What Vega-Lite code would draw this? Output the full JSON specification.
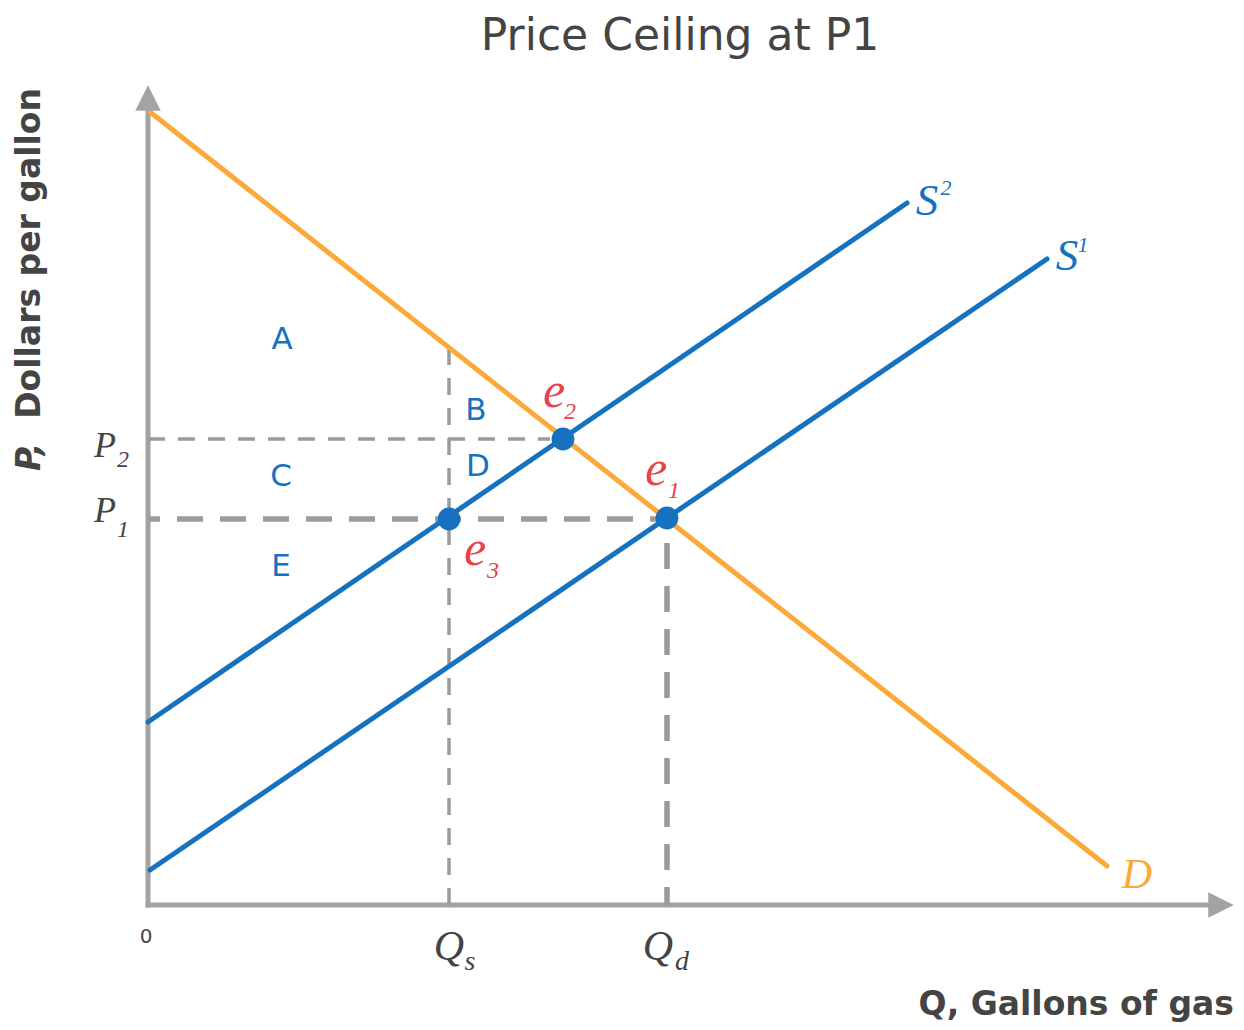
{
  "$schema": "https://vega.github.io/schema/vega-lite/v6.json",
  "width": 1086,
  "height": 817,
  "autosize": {"type": "none"},
  "padding": {"left": 148, "top": 88, "right": 10, "bottom": 125},
  "background": "white",
  "config": {"view": {"stroke": null}},
  "datasets": {
    "segs": [
      {"s": "axis", "x": 0, "y": -2.5, "x2": 0, "y2": 795},
      {"s": "axis", "x": -2.5, "y": 0, "x2": 1065, "y2": 0},
      {"s": "thin", "x": 0, "y": 466, "x2": 402, "y2": 466},
      {"s": "thin", "x": 301, "y": 0, "x2": 301, "y2": 557},
      {"s": "thickh", "x": 0, "y": 386, "x2": 519, "y2": 386},
      {"s": "thickv", "x": 519, "y": 0, "x2": 519, "y2": 386},
      {"s": "D", "x": 2, "y": 793, "x2": 959, "y2": 39},
      {"s": "S", "x": 0, "y": 183, "x2": 759, "y2": 702},
      {"s": "S", "x": 2, "y": 35, "x2": 899, "y2": 646}
    ],
    "arrows": [
      {"a": "up", "x": 0, "y": 807},
      {"a": "right", "x": 1073, "y": 0}
    ],
    "pts": [
      {"name": "e2", "x": 415, "y": 466},
      {"name": "e1", "x": 519, "y": 387},
      {"name": "e3", "x": 301, "y": 386}
    ],
    "labels": [
      {"g": "title", "t": "Price Ceiling at P1", "x": 532, "y": 855},
      {"g": "ytp", "t": "P,", "x": -108, "y": 434},
      {"g": "yt", "t": "Dollars per gallon", "x": -108, "y": 817},
      {"g": "xt", "t": "Q, Gallons of gas", "x": 1086, "y": -110},
      {"g": "zero", "t": "0", "x": -2, "y": -32},
      {"g": "region", "t": "A", "x": 134, "y": 565},
      {"g": "region", "t": "B", "x": 328, "y": 494},
      {"g": "region", "t": "C", "x": 133, "y": 428},
      {"g": "region", "t": "D", "x": 330, "y": 438},
      {"g": "region", "t": "E", "x": 133, "y": 338},
      {"g": "p", "t": "P", "x": -43, "y": 448},
      {"g": "p", "t": "P", "x": -43, "y": 383},
      {"g": "psub", "t": "2", "x": -25, "y": 438},
      {"g": "psub", "t": "1", "x": -25, "y": 368},
      {"g": "q", "t": "Q", "x": 301, "y": -55},
      {"g": "q", "t": "Q", "x": 510, "y": -55},
      {"g": "qsub", "t": "s", "x": 322, "y": -65},
      {"g": "qsub", "t": "d", "x": 534, "y": -65},
      {"g": "e", "t": "e", "x": 406, "y": 498},
      {"g": "e", "t": "e", "x": 508, "y": 420},
      {"g": "e", "t": "e", "x": 327, "y": 340},
      {"g": "esub", "t": "2", "x": 422, "y": 486},
      {"g": "esub", "t": "1", "x": 526, "y": 407},
      {"g": "esub", "t": "3", "x": 345, "y": 327},
      {"g": "s", "t": "S", "x": 779, "y": 690},
      {"g": "s", "t": "S", "x": 919, "y": 635},
      {"g": "ssup", "t": "2", "x": 798, "y": 710},
      {"g": "ssup", "t": "1", "x": 935, "y": 653},
      {"g": "dl", "t": "D", "x": 989, "y": 17}
    ]
  },
  "encoding": {
    "x": {"field": "x", "type": "quantitative", "scale": {"domain": [0, 1086], "nice": false, "zero": false}, "axis": null},
    "y": {"field": "y", "type": "quantitative", "scale": {"domain": [0, 817], "nice": false, "zero": false}, "axis": null}
  },
  "layer": [
    {
      "data": {"name": "segs"},
      "transform": [{"filter": "datum.s === 'axis'"}],
      "mark": {"type": "rule", "stroke": "#a3a3a3", "strokeWidth": 5, "strokeCap": "butt"},
      "encoding": {"x2": {"field": "x2"}, "y2": {"field": "y2"}}
    },
    {
      "data": {"name": "segs"},
      "transform": [{"filter": "datum.s === 'thin'"}],
      "mark": {"type": "rule", "stroke": "#9b9b9b", "strokeWidth": 3.5, "strokeDash": [17, 13], "strokeCap": "butt"},
      "encoding": {"x2": {"field": "x2"}, "y2": {"field": "y2"}}
    },
    {
      "data": {"name": "segs"},
      "transform": [{"filter": "datum.s === 'thickh'"}],
      "mark": {"type": "rule", "stroke": "#9b9b9b", "strokeWidth": 5.5, "strokeDash": [26, 17], "strokeDashOffset": 14, "strokeCap": "butt"},
      "encoding": {"x2": {"field": "x2"}, "y2": {"field": "y2"}}
    },
    {
      "data": {"name": "segs"},
      "transform": [{"filter": "datum.s === 'thickv'"}],
      "mark": {"type": "rule", "stroke": "#9b9b9b", "strokeWidth": 5.5, "strokeDash": [26, 17], "strokeDashOffset": 8, "strokeCap": "butt"},
      "encoding": {"x2": {"field": "x2"}, "y2": {"field": "y2"}}
    },
    {
      "data": {"name": "segs"},
      "transform": [{"filter": "datum.s === 'S'"}],
      "mark": {"type": "rule", "stroke": "#1672bf", "strokeWidth": 5, "strokeCap": "round"},
      "encoding": {"x2": {"field": "x2"}, "y2": {"field": "y2"}}
    },
    {
      "data": {"name": "segs"},
      "transform": [{"filter": "datum.s === 'D'"}],
      "mark": {"type": "rule", "stroke": "#fbaa3a", "strokeWidth": 5, "strokeCap": "round"},
      "encoding": {"x2": {"field": "x2"}, "y2": {"field": "y2"}}
    },
    {
      "data": {"name": "arrows"},
      "transform": [{"filter": "datum.a === 'up'"}],
      "mark": {"type": "point", "shape": "M-1,1L0,-1L1,1Z", "size": 650, "filled": true, "fill": "#a3a3a3", "opacity": 1, "strokeWidth": 0}
    },
    {
      "data": {"name": "arrows"},
      "transform": [{"filter": "datum.a === 'right'"}],
      "mark": {"type": "point", "shape": "M-1,-1L1,0L-1,1Z", "size": 650, "filled": true, "fill": "#a3a3a3", "opacity": 1, "strokeWidth": 0}
    },
    {
      "data": {"name": "pts"},
      "mark": {"type": "point", "shape": "circle", "size": 520, "filled": true, "fill": "#1672bf", "opacity": 1, "strokeWidth": 0}
    },
    {
      "data": {"name": "labels"},
      "transform": [{"filter": "datum.g === 'title'"}],
      "mark": {"type": "text", "font": "DejaVu Sans", "fontSize": 44, "fill": "#444444", "align": "center", "baseline": "alphabetic"},
      "encoding": {"text": {"field": "t"}}
    },
    {
      "data": {"name": "labels"},
      "transform": [{"filter": "datum.g === 'ytp'"}],
      "mark": {"type": "text", "font": "DejaVu Sans", "fontSize": 33, "fontWeight": "bold", "fontStyle": "italic", "fill": "#444444", "align": "left", "baseline": "alphabetic", "angle": 270},
      "encoding": {"text": {"field": "t"}}
    },
    {
      "data": {"name": "labels"},
      "transform": [{"filter": "datum.g === 'yt'"}],
      "mark": {"type": "text", "font": "DejaVu Sans", "fontSize": 33, "fontWeight": "bold", "fill": "#444444", "align": "right", "baseline": "alphabetic", "angle": 270},
      "encoding": {"text": {"field": "t"}}
    },
    {
      "data": {"name": "labels"},
      "transform": [{"filter": "datum.g === 'xt'"}],
      "mark": {"type": "text", "font": "DejaVu Sans", "fontSize": 33, "fontWeight": "bold", "fill": "#444444", "align": "right", "baseline": "alphabetic"},
      "encoding": {"text": {"field": "t"}}
    },
    {
      "data": {"name": "labels"},
      "transform": [{"filter": "datum.g === 'zero'"}],
      "mark": {"type": "text", "font": "DejaVu Sans", "fontSize": 20, "fill": "#444444", "align": "center", "baseline": "middle"},
      "encoding": {"text": {"field": "t"}}
    },
    {
      "data": {"name": "labels"},
      "transform": [{"filter": "datum.g === 'region'"}],
      "mark": {"type": "text", "font": "DejaVu Sans", "fontSize": 31, "fill": "#1672bf", "align": "center", "baseline": "middle"},
      "encoding": {"text": {"field": "t"}}
    },
    {
      "data": {"name": "labels"},
      "transform": [{"filter": "datum.g === 'p'"}],
      "mark": {"type": "text", "font": "Liberation Serif", "fontStyle": "italic", "fontSize": 36, "fill": "#444444", "align": "center", "baseline": "alphabetic"},
      "encoding": {"text": {"field": "t"}}
    },
    {
      "data": {"name": "labels"},
      "transform": [{"filter": "datum.g === 'psub'"}],
      "mark": {"type": "text", "font": "Liberation Serif", "fontStyle": "italic", "fontSize": 24, "fill": "#444444", "align": "center", "baseline": "alphabetic"},
      "encoding": {"text": {"field": "t"}}
    },
    {
      "data": {"name": "labels"},
      "transform": [{"filter": "datum.g === 'q'"}],
      "mark": {"type": "text", "font": "Liberation Serif", "fontStyle": "italic", "fontSize": 42, "fill": "#444444", "align": "center", "baseline": "alphabetic"},
      "encoding": {"text": {"field": "t"}}
    },
    {
      "data": {"name": "labels"},
      "transform": [{"filter": "datum.g === 'qsub'"}],
      "mark": {"type": "text", "font": "Liberation Serif", "fontStyle": "italic", "fontSize": 28, "fill": "#444444", "align": "center", "baseline": "alphabetic"},
      "encoding": {"text": {"field": "t"}}
    },
    {
      "data": {"name": "labels"},
      "transform": [{"filter": "datum.g === 'e'"}],
      "mark": {"type": "text", "font": "Liberation Serif", "fontStyle": "italic", "fontSize": 50, "fill": "#e8424a", "align": "center", "baseline": "alphabetic"},
      "encoding": {"text": {"field": "t"}}
    },
    {
      "data": {"name": "labels"},
      "transform": [{"filter": "datum.g === 'esub'"}],
      "mark": {"type": "text", "font": "Liberation Serif", "fontStyle": "italic", "fontSize": 24, "fill": "#e8424a", "align": "center", "baseline": "alphabetic"},
      "encoding": {"text": {"field": "t"}}
    },
    {
      "data": {"name": "labels"},
      "transform": [{"filter": "datum.g === 's'"}],
      "mark": {"type": "text", "font": "Liberation Serif", "fontStyle": "italic", "fontSize": 45, "fill": "#1672bf", "align": "center", "baseline": "alphabetic"},
      "encoding": {"text": {"field": "t"}}
    },
    {
      "data": {"name": "labels"},
      "transform": [{"filter": "datum.g === 'ssup'"}],
      "mark": {"type": "text", "font": "Liberation Serif", "fontStyle": "italic", "fontSize": 22, "fill": "#1672bf", "align": "center", "baseline": "alphabetic"},
      "encoding": {"text": {"field": "t"}}
    },
    {
      "data": {"name": "labels"},
      "transform": [{"filter": "datum.g === 'dl'"}],
      "mark": {"type": "text", "font": "Liberation Serif", "fontStyle": "italic", "fontSize": 42, "fill": "#fbaa3a", "align": "center", "baseline": "alphabetic"},
      "encoding": {"text": {"field": "t"}}
    }
  ]
}
